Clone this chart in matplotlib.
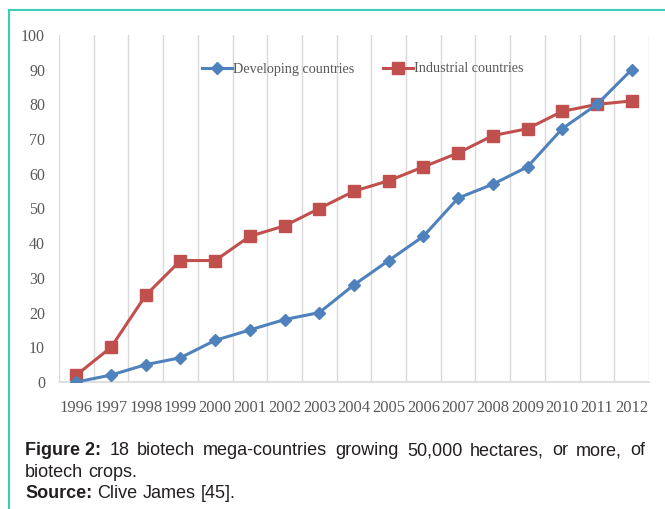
import numpy as np
import matplotlib
matplotlib.use('Agg')
import matplotlib.pyplot as plt
from matplotlib.lines import Line2D

years = [str(y) for y in range(1996, 2013)]
developing = [0, 2, 5, 7, 12, 15, 18, 20, 28, 35, 42, 53, 57, 62, 73, 80, 90]
industrial = [2, 10, 25, 35, 35, 42, 45, 50, 55, 58, 62, 66, 71, 73, 78, 80, 81]
y_ticks = [0, 10, 20, 30, 40, 50, 60, 70, 80, 90, 100]

caption_bold = 'Figure 2:'
caption_rest = '18 biotech mega-countries growing 50,000 hectares, or more, of'
caption_line2 = 'biotech crops.'
source_bold = 'Source:'
source_rest = 'Clive James [45].'

blue = '#4F81BD'
red = '#C0504D'
serif = ['Liberation Serif', 'DejaVu Serif']
sans = ['Liberation Sans', 'DejaVu Sans']

fig = plt.figure(figsize=(6.65, 5.09), dpi=100)
ax = fig.add_axes([59 / 665, 1 - 382 / 509, 590 / 665, 347 / 509])

x = np.arange(len(years))
ax.plot(x, developing, color=blue, lw=2.2, marker='D', ms=6.5,
        markerfacecolor=blue, markeredgecolor=blue, zorder=3,
        label='Developing countries')
ax.plot(x, industrial, color=red, lw=2.2, marker='s', ms=8.5,
        markerfacecolor=red, markeredgecolor=red, zorder=2,
        label='Industrial countries')

ax.set_xlim(-0.5, len(years) - 0.5)
ax.set_ylim(0, 100)
ax.set_xticks(x)
ax.set_xticklabels(years, fontfamily=serif, fontsize=12, color='#595959')
ax.set_yticks(y_ticks)
ax.set_yticklabels([str(v) for v in y_ticks], fontfamily=serif, fontsize=11.5,
                   color='#595959')
ax.tick_params(axis='x', length=0, pad=13)
ax.tick_params(axis='y', length=0, pad=10)

# vertical gridlines at category boundaries
for gx in np.arange(-0.5, len(years), 1.0):
    ax.axvline(gx, color='#D9D9D9', lw=1.0, zorder=0)

for s in ['top', 'right', 'left']:
    ax.spines[s].set_visible(False)
ax.spines['bottom'].set_color('#D9D9D9')
ax.spines['bottom'].set_linewidth(1.2)

leg = ax.legend(loc='center', bbox_to_anchor=(363 / 665, 1 - 69 / 509),
                bbox_transform=fig.transFigure, ncol=2, frameon=False,
                handlelength=2.1, handletextpad=0.1, columnspacing=2.0,
                prop={'family': serif, 'size': 10.2})
for t in leg.get_texts():
    t.set_color('#595959')

# teal frame (left and top edges)
fig.add_artist(Line2D([9 / 665, 9 / 665], [0, 1 - 10 / 509],
                      transform=fig.transFigure, color='#3ECDB8', lw=1.5))
fig.add_artist(Line2D([9 / 665, 1], [1 - 10 / 509, 1 - 10 / 509],
                      transform=fig.transFigure, color='#3ECDB8', lw=1.5))

# caption, word by word so the first line can be justified
fig.canvas.draw()
renderer = fig.canvas.get_renderer()
cap_color = '#231F20'
cap_size = 13
W = fig.bbox.width
H = fig.bbox.height


def measure(s, bold=False):
    t = fig.text(0, 0, s, fontfamily=sans, fontsize=cap_size,
                 fontweight='bold' if bold else 'normal')
    wd = t.get_window_extent(renderer).width
    t.remove()
    return wd


def put(xpx, ypx, s, bold=False):
    fig.text(xpx / W, 1 - ypx / H, s, fontfamily=sans, fontsize=cap_size,
             fontweight='bold' if bold else 'normal', color=cap_color,
             va='baseline')


space = measure('a a') - 2 * measure('a')


def line(ypx, runs, right=None):
    widths = [measure(w, b) for w, b in runs]
    gap = space
    if right is not None and len(runs) > 1:
        gap = (right - 25 - sum(widths)) / (len(runs) - 1)
    xx = 25
    for (w, b), wd in zip(runs, widths):
        put(xx, ypx, w, b)
        xx += wd + gap


line(455, [(caption_bold, True)] + [(w, False) for w in caption_rest.split()],
     right=645)
line(477, [(w, False) for w in caption_line2.split()])
line(498, [(source_bold, True)] + [(w, False) for w in source_rest.split()])

fig.savefig('out.png', dpi=100)
